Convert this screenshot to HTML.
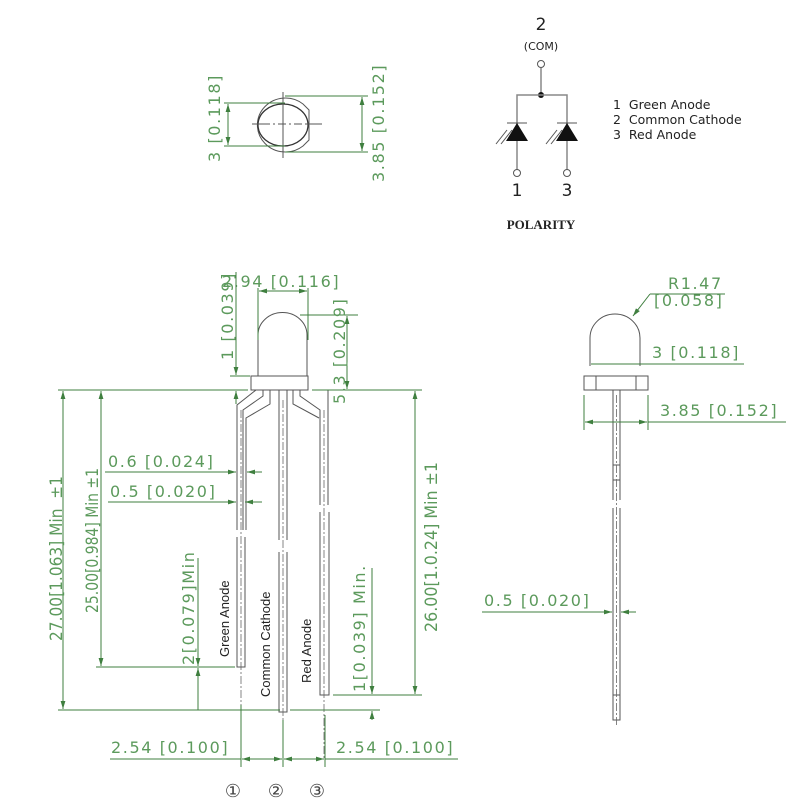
<!DOCTYPE html>
<html><head><meta charset="utf-8"><style>
html,body{margin:0;padding:0;background:#fff}
svg{display:block}
.g{stroke:#3f7f3f;stroke-width:1;fill:none}
.b{stroke:#555;stroke-width:1;fill:none}
.c{stroke:#666;stroke-width:0.8;fill:none;stroke-dasharray:8 2 2 2}
.t{font-family:"DejaVu Sans","Liberation Sans",sans-serif;font-size:16px;fill:#5c9a5c;letter-spacing:1.6px}
.v{font-family:"DejaVu Sans","Liberation Sans",sans-serif;font-size:17px;fill:#5c9a5c}
.k{font-family:"DejaVu Sans","Liberation Sans",sans-serif;fill:#222}
</style></head><body>
<svg width="798" height="806" viewBox="0 0 798 806" xmlns="http://www.w3.org/2000/svg">
<defs>
<marker id="a" viewBox="0 0 10 6" refX="10" refY="3" markerWidth="8" markerHeight="5" orient="auto-start-reverse"><path d="M0,0L10,3L0,6z" fill="#3f7f3f"/></marker>
</defs>

<!-- TOP VIEW -->
<g>
<path class="b" d="M303,104 A28,27 0 1 0 303,146 L309,140 L309,110 Z"/>
<ellipse class="b" cx="283" cy="125" rx="25" ry="21" style="stroke:#333;stroke-width:1.3"/>
<line class="b" x1="262" y1="124" x2="305" y2="124" stroke-dasharray="8 3 2 3"/>
<line class="b" x1="283" y1="92" x2="283" y2="158"/>
<line class="b" x1="252" y1="124" x2="262" y2="124"/><line class="b" x1="305" y1="124" x2="322" y2="124"/>
<line class="g" x1="224" y1="103" x2="285" y2="103"/>
<line class="g" x1="224" y1="146" x2="285" y2="146"/>
<line class="g" x1="228" y1="104" x2="228" y2="145" marker-start="url(#a)" marker-end="url(#a)"/>
<text class="t" transform="translate(220,162) rotate(-90)">3 [0.118]</text>
<line class="g" x1="285" y1="96" x2="368" y2="96"/>
<line class="g" x1="285" y1="152" x2="368" y2="152"/>
<line class="g" x1="362" y1="97" x2="362" y2="151" marker-start="url(#a)" marker-end="url(#a)"/>
<text class="t" transform="translate(384,182) rotate(-90)">3.85 [0.152]</text>
</g>

<!-- POLARITY -->
<g>
<text class="k" x="541" y="30" font-size="17" text-anchor="middle">2</text>
<text class="k" x="541" y="50" font-size="11" text-anchor="middle">(COM)</text>
<circle cx="541" cy="64" r="3.5" fill="#fff" stroke="#555"/>
<line x1="541" y1="68" x2="541" y2="95" stroke="#888" stroke-width="1.5"/>
<circle cx="541" cy="95" r="3" fill="#111"/>
<path d="M517,172V95H567V172" fill="none" stroke="#888" stroke-width="1.5"/>
<path d="M507,123H527M557,123H577" stroke="#555" stroke-width="1"/>
<path d="M517,123L506,141H528Z M567,123L556,141H578Z" fill="#111"/>
<path d="M507,130L496,144M512,130L501,144M557,130L546,144M562,130L551,144" stroke="#555" stroke-width="1"/>
<circle cx="517" cy="173" r="3.5" fill="#fff" stroke="#555"/>
<circle cx="567" cy="173" r="3.5" fill="#fff" stroke="#555"/>
<text class="k" x="517" y="196" font-size="17" text-anchor="middle">1</text>
<text class="k" x="567" y="196" font-size="17" text-anchor="middle">3</text>
<text x="541" y="229" font-family="Liberation Serif,serif" font-weight="bold" font-size="13" fill="#222" text-anchor="middle">POLARITY</text>
<text class="k" x="613" y="109" font-size="12.5" xml:space="preserve">1  Green Anode</text>
<text class="k" x="613" y="124" font-size="12.5" xml:space="preserve">2  Common Cathode</text>
<text class="k" x="613" y="139" font-size="12.5" xml:space="preserve">3  Red Anode</text>
</g>

<!-- FRONT VIEW -->
<g>
<path class="b" d="M258,376V335A24,22 0 0 1 307,335V376"/>
<rect class="b" x="251" y="376" width="57" height="14"/>
<path class="b" d="M263,390V396L243,410V530 M270,390V404L246,418V530 M237,530V405L256,390"/>
<path class="b" d="M237,537V667H245V537"/>
<line class="c" x1="241" y1="410" x2="241" y2="760"/>
<path class="b" d="M279,390V540M287,390V540M279,552V712H287V552"/>
<line class="c" x1="283" y1="400" x2="283" y2="760"/>
<path class="b" d="M300,390V396L320,410V505 M293,390V404L319,418 M328,405V505 M328,390L328,405"/>
<path class="b" d="M320,512V695H329V512"/>
<line class="c" x1="324" y1="410" x2="324" y2="760"/>
</g>

<!-- front dims -->
<g>
<line class="g" x1="58" y1="390" x2="248" y2="390"/>
<line class="g" x1="312" y1="390" x2="422" y2="390"/>
<line class="g" x1="63" y1="391" x2="63" y2="709" marker-start="url(#a)" marker-end="url(#a)"/>
<line class="g" x1="58" y1="710" x2="280" y2="710"/>
<line class="g" x1="290" y1="710" x2="380" y2="710"/>
<text class="v" transform="translate(62,641) rotate(-90)" textLength="165" lengthAdjust="spacingAndGlyphs" xml:space="preserve">27.00[1.063] Min  ±1</text>
<line class="g" x1="101" y1="391" x2="101" y2="666" marker-start="url(#a)" marker-end="url(#a)"/>
<line class="g" x1="96" y1="667" x2="235" y2="667"/>
<text class="v" transform="translate(98,613) rotate(-90)" textLength="145" lengthAdjust="spacingAndGlyphs">25.00[0.984] Min ±1</text>
<line class="g" x1="415" y1="391" x2="415" y2="694" marker-start="url(#a)" marker-end="url(#a)"/>
<line class="g" x1="333" y1="695" x2="422" y2="695"/>
<text class="v" transform="translate(437,632) rotate(-90)" textLength="170" lengthAdjust="spacingAndGlyphs">26.00[1.0.24] Min ±1</text>
<line class="g" x1="198" y1="558" x2="198" y2="666" marker-end="url(#a)"/>
<line class="g" x1="198" y1="710" x2="198" y2="668" marker-end="url(#a)"/>
<text class="t" transform="translate(194,665) rotate(-90)">2[0.079]Min</text>
<line class="g" x1="372" y1="568" x2="372" y2="694" marker-end="url(#a)"/>
<line class="g" x1="372" y1="720" x2="372" y2="711" marker-end="url(#a)"/>
<text class="t" transform="translate(365,692) rotate(-90)">1[0.039] Min.</text>
<line class="g" x1="105" y1="472" x2="236" y2="472" marker-end="url(#a)"/>
<line class="g" x1="262" y1="472" x2="247" y2="472" marker-end="url(#a)"/>
<text class="t" x="108" y="467">0.6 [0.024]</text>
<line class="g" x1="108" y1="502" x2="236" y2="502" marker-end="url(#a)"/>
<line class="g" x1="262" y1="502" x2="245" y2="502" marker-end="url(#a)"/>
<text class="t" x="110" y="497">0.5 [0.020]</text>
<line class="g" x1="258" y1="288" x2="258" y2="340"/>
<line class="g" x1="308" y1="288" x2="308" y2="340"/>
<line class="g" x1="259" y1="291" x2="307" y2="291" marker-start="url(#a)" marker-end="url(#a)"/>
<text class="t" x="222" y="287">2.94 [0.116]</text>
<line class="g" x1="236" y1="272" x2="236" y2="375" marker-end="url(#a)"/>
<line class="g" x1="236" y1="404" x2="236" y2="391" marker-end="url(#a)"/>
<line class="g" x1="230" y1="376" x2="250" y2="376"/>
<text class="t" transform="translate(233,360) rotate(-90)">1 [0.039]</text>
<line class="g" x1="300" y1="315" x2="358" y2="315"/>
<line class="g" x1="347" y1="316" x2="347" y2="389" marker-start="url(#a)" marker-end="url(#a)"/>
<text class="t" transform="translate(345,404) rotate(-90)">5.3 [0.209]</text>
<line class="g" x1="241" y1="705" x2="241" y2="767"/>
<line class="g" x1="283" y1="720" x2="283" y2="767"/>
<line class="g" x1="325" y1="715" x2="325" y2="767"/>
<line class="g" x1="110" y1="759" x2="241" y2="759"/>
<line class="g" x1="242" y1="759" x2="262" y2="759" marker-start="url(#a)"/>
<line class="g" x1="262" y1="759" x2="282" y2="759" marker-end="url(#a)"/>
<line class="g" x1="284" y1="759" x2="304" y2="759" marker-start="url(#a)"/>
<line class="g" x1="304" y1="759" x2="324" y2="759" marker-end="url(#a)"/>
<line class="g" x1="325" y1="759" x2="458" y2="759"/>
<text class="t" x="111" y="753">2.54 [0.100]</text>
<text class="t" x="336" y="753">2.54 [0.100]</text>
<text x="233" y="797" font-family="DejaVu Sans,sans-serif" font-size="18" fill="#444" text-anchor="middle">①</text>
<text x="276" y="797" font-family="DejaVu Sans,sans-serif" font-size="18" fill="#444" text-anchor="middle">②</text>
<text x="317" y="797" font-family="DejaVu Sans,sans-serif" font-size="18" fill="#444" text-anchor="middle">③</text>
<text transform="translate(229,657) rotate(-90)" font-family="Liberation Sans,sans-serif" font-size="13" fill="#222">Green Anode</text>
<text transform="translate(270,697) rotate(-90)" font-family="Liberation Sans,sans-serif" font-size="13" fill="#222">Common Cathode</text>
<text transform="translate(311,683) rotate(-90)" font-family="Liberation Sans,sans-serif" font-size="13" fill="#222">Red Anode</text>
</g>

<!-- SIDE VIEW -->
<g>
<path class="b" d="M590,366V338A25,24 0 0 1 640,338V366"/>
<rect class="b" x="584" y="376" width="64" height="14"/>
<line class="b" x1="596" y1="376" x2="596" y2="390"/><line class="b" x1="636" y1="376" x2="636" y2="390"/>
<path class="b" d="M613,390V500M620,390V500M613,508V720H620V508"/>
<line class="b" x1="613" y1="465" x2="620" y2="465"/><line class="b" x1="613" y1="480" x2="620" y2="480"/>
<line class="b" x1="613" y1="695" x2="620" y2="695"/>
<line class="c" x1="616.5" y1="395" x2="616.5" y2="725"/>
<line class="g" x1="591" y1="364" x2="744" y2="364"/>
<text class="t" x="652" y="358">3 [0.118]</text>
<line class="g" x1="584" y1="395" x2="584" y2="430"/>
<line class="g" x1="648" y1="395" x2="648" y2="430"/>
<line class="g" x1="585" y1="422" x2="647" y2="422" marker-start="url(#a)" marker-end="url(#a)"/>
<line class="g" x1="648" y1="422" x2="786" y2="422"/>
<text class="t" x="660" y="416">3.85 [0.152]</text>
<line class="g" x1="650" y1="294" x2="725" y2="294"/>
<line class="g" x1="650" y1="294" x2="633" y2="316" marker-end="url(#a)"/>
<text class="t" x="668" y="289">R1.47</text>
<text class="t" x="654" y="306">[0.058]</text>
<line class="g" x1="482" y1="612" x2="612" y2="612" marker-end="url(#a)"/>
<line class="g" x1="636" y1="612" x2="621" y2="612" marker-end="url(#a)"/>
<text class="t" x="484" y="606">0.5 [0.020]</text>
</g>
</svg>
</body></html>
